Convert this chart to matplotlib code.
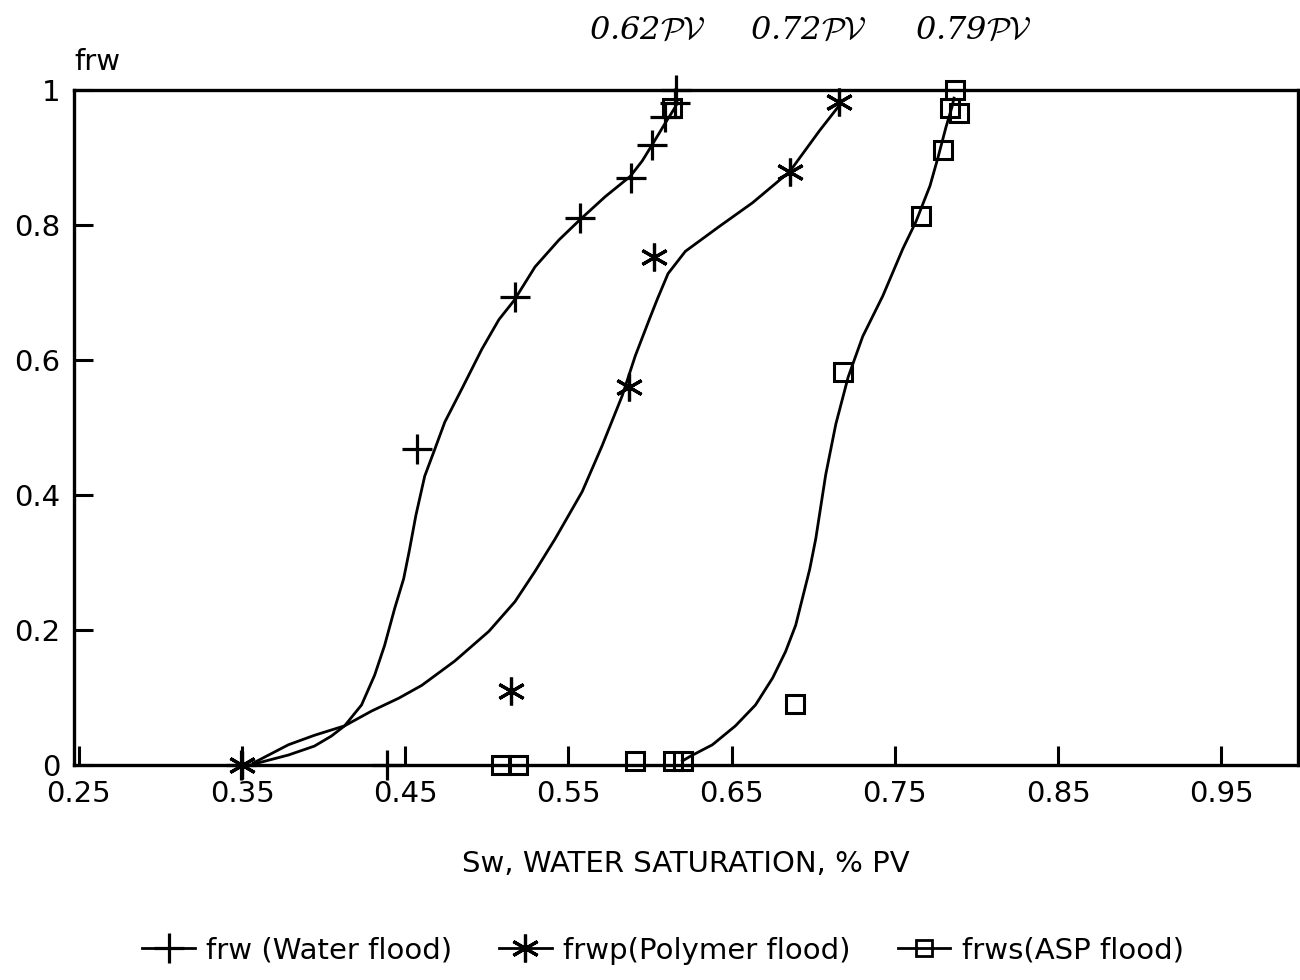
import matplotlib
matplotlib.use("Agg")
import matplotlib.pyplot as plt
from matplotlib.lines import Line2D

plt.rcParams['font.family'] = ['DejaVu Sans']

# measured points (Sw, frw)
water_sw = [0.3495, 0.4386, 0.457, 0.517, 0.557, 0.588, 0.601, 0.609, 0.615, 0.616]
water_fw = [0.0, 0.0, 0.468, 0.694, 0.811, 0.870, 0.919, 0.960, 0.981, 1.0]

poly_sw = [0.35, 0.515, 0.587, 0.6026, 0.6855, 0.716]
poly_fw = [0.0, 0.109, 0.560, 0.753, 0.879, 0.982]

asp_sw = [0.5086, 0.519, 0.591, 0.614, 0.620, 0.6136, 0.6886, 0.718, 0.766, 0.7795, 0.784, 0.789, 0.787]
asp_fw = [0.0, 0.0, 0.006, 0.006, 0.006, 0.973, 0.090, 0.582, 0.814, 0.911, 0.973, 0.966, 1.0]

# fitted curves
water_curve_sw = [0.355, 0.3784, 0.3943, 0.4048, 0.4128, 0.4232, 0.4312, 0.4373, 0.4435, 0.449,
                  0.4525, 0.4565, 0.4619, 0.4681, 0.4742, 0.4846, 0.4969, 0.5074, 0.5166, 0.5295,
                  0.5442, 0.5571, 0.5725, 0.5878, 0.5952, 0.6013, 0.6093, 0.6155, 0.6167]
water_curve_fw = [0.0, 0.0148, 0.028, 0.043, 0.058, 0.089, 0.133, 0.177, 0.232, 0.276,
                  0.318, 0.370, 0.428, 0.468, 0.508, 0.557, 0.616, 0.660, 0.688, 0.738,
                  0.778, 0.808, 0.842, 0.872, 0.895, 0.919, 0.951, 0.975, 0.985]

poly_curve_sw = [0.3569, 0.3784, 0.3943, 0.4128, 0.4294, 0.446, 0.4601, 0.4803, 0.5012, 0.5172,
                 0.5295, 0.5418, 0.5584, 0.5706, 0.5829, 0.5909, 0.5995, 0.6044, 0.611, 0.6216,
                 0.6425, 0.6628, 0.6855, 0.7039, 0.7162]
poly_curve_fw = [0.003, 0.030, 0.044, 0.058, 0.080, 0.099, 0.118, 0.154, 0.198, 0.242,
                 0.287, 0.335, 0.405, 0.473, 0.547, 0.606, 0.660, 0.690, 0.728, 0.761,
                 0.798, 0.833, 0.879, 0.940, 0.978]

asp_curve_sw = [0.6198, 0.6247, 0.6382, 0.6523, 0.6646, 0.6751, 0.683, 0.6892, 0.6978, 0.7015,
                0.7076, 0.7138, 0.7214, 0.7303, 0.7426, 0.7549, 0.7629, 0.7715, 0.7764, 0.7813,
                0.785, 0.7862]
asp_curve_fw = [0.006, 0.013, 0.030, 0.058, 0.089, 0.129, 0.168, 0.207, 0.290, 0.335,
                0.430, 0.505, 0.575, 0.635, 0.695, 0.765, 0.805, 0.858, 0.900, 0.945,
                0.975, 0.988]

xticks = [0.25, 0.35, 0.45, 0.55, 0.65, 0.75, 0.85, 0.95]
yticks = [0, 0.2, 0.4, 0.6, 0.8, 1]
ytick_labels = ['0', '0.2', '0.4', '0.6', '0.8', '1']
pv_labels = ['0.62', '0.72', '0.79']
pv_label_x = [0.598, 0.697, 0.798]   # where the annotations sit along Sw

fig = plt.figure(figsize=(13, 9.8), dpi=100)
ax = fig.add_axes([74/1300, 1-765/980, (1298-74)/1300, (765-90)/980])

k = 'black'
ax.plot(water_curve_sw, water_curve_fw, color=k, lw=2)
ax.plot(poly_curve_sw, poly_curve_fw, color=k, lw=2)
ax.plot(asp_curve_sw, asp_curve_fw, color=k, lw=2)

ax.plot(water_sw, water_fw, ls='none', marker='+', ms=22, mew=2.3, color=k, clip_on=False)
ax.plot(poly_sw, poly_fw, ls='none', marker=(6, 2, 0), ms=20, mew=2.3, color=k, clip_on=False)
ax.plot(asp_sw, asp_fw, ls='none', marker='s', ms=13, mew=2.2, mfc='none', color=k, clip_on=False)

ax.set_xlim(0.247, 0.997)
ax.set_ylim(0, 1)
ax.set_xticks(xticks)
ax.set_xticklabels([f'{v:.2f}' for v in xticks])
ax.set_yticks(yticks)
ax.set_yticklabels(ytick_labels)
ax.tick_params(direction='in', length=14, width=2.2, labelsize=21)
ax.tick_params(axis='x', pad=11)
ax.tick_params(axis='y', pad=10)
for s in ax.spines.values():
    s.set_linewidth(2.4)

ax.set_xlabel('Sw, WATER SATURATION, % PV', fontsize=21, labelpad=30)
ax.text(0.0, 1.0296, 'frw', transform=ax.transAxes, fontsize=21, ha='left', va='baseline')

for xv, lab in zip(pv_label_x, pv_labels):
    ax.text(xv, 1.089, lab + r'$\mathcal{PV}$', transform=ax.get_xaxis_transform(),
            fontsize=23, ha='center', va='center', family='DejaVu Serif', style='italic',
            math_fontfamily='cm')

handles = [
    Line2D([], [], color=k, lw=2, marker='+', ms=22, mew=2.3),
    Line2D([], [], color=k, lw=2, marker=(6, 2, 0), ms=20, mew=2.3),
    Line2D([], [], color=k, lw=2, marker='s', ms=11, mew=2, mfc='none'),
]
fig.legend(handles, ['frw (Water flood)', 'frwp(Polymer flood)', 'frws(ASP flood)'],
           loc='center', bbox_to_anchor=(0.51, 0.03), ncol=3, frameon=False,
           fontsize=21, handlelength=1.8, handletextpad=0.4, columnspacing=1.6)

fig.savefig('out.png', dpi=100)
